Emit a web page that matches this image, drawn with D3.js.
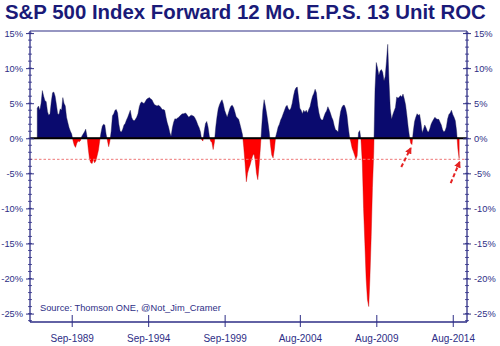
<!DOCTYPE html>
<html><head><meta charset="utf-8">
<script src="https://cdn.jsdelivr.net/npm/d3@7"></script>
<style>body{margin:0;background:#fff}svg{display:block}text{font-family:"Liberation Sans",Arial,sans-serif}</style>
</head><body><svg id="c" width="500" height="346"></svg>
<script>
const title = "S&P 500 Index Forward 12 Mo. E.P.S. 13 Unit ROC";
const source = "Source: Thomson ONE, @Not_Jim_Cramer";
const startMonth = "1987-06";
// monthly 13-unit rate of change (%)
const values = [
 4.3,4.6,4.0,5.0,6.8,6.0,5.4,5.2,3.8,3.3,
 3.5,5.2,6.5,6.6,6.0,4.8,3.5,3.4,4.2,4.0,
 5.8,5.0,4.6,3.0,2.2,1.5,1.0,0.6,-0.3,-1.0,
 -1.3,-0.7,-0.4,-0.5,-0.3,0.3,0.6,0.9,1.3,0.3,
 -1.5,-3.0,-3.5,-3.6,-3.0,-3.5,-3.2,-2.5,-1.7,-0.4,
 0.8,1.7,2.0,1.9,0.6,-0.3,-1.2,-0.4,1.0,3.2,
 3.5,4.0,4.1,3.6,2.0,1.0,0.9,1.3,1.9,2.1,
 2.6,3.0,3.5,4.0,3.0,2.6,2.5,2.7,3.0,3.5,
 4.5,5.0,5.2,5.0,5.0,5.3,5.6,5.7,5.8,5.6,
 5.5,5.1,4.8,4.7,4.6,4.7,4.6,4.4,4.1,4.1,
 4.0,3.0,2.2,1.6,0.8,0.3,1.5,2.3,2.8,2.7,
 2.9,3.0,3.2,3.4,3.5,3.5,3.6,3.5,3.2,3.0,
 3.2,3.3,3.2,3.1,2.8,2.4,1.9,1.5,0.9,-0.2,
 -0.4,1.0,2.1,2.4,1.6,0.3,-0.4,-0.6,-1.6,-0.5,
 1.6,3.0,4.2,4.8,5.2,5.5,4.9,4.0,3.5,3.0,
 3.6,4.2,4.6,4.7,4.4,3.8,3.1,2.9,2.7,2.0,
 1.3,0.5,-1.3,-3.6,-6.2,-5.0,-4.3,-3.8,-3.1,-2.5,
 -2.2,-3.2,-5.0,-5.9,-4.0,-1.4,1.5,4.0,5.5,4.6,
 3.5,2.3,0.9,-1.0,-2.4,-2.8,-1.6,0.2,0.9,1.6,
 2.0,2.6,3.0,3.5,4.0,4.5,4.7,4.2,4.0,4.3,
 5.0,6.0,6.8,7.2,7.3,5.8,4.3,4.0,3.5,
 4.0,3.7,4.0,3.6,4.1,4.5,5.3,6.0,6.4,7.0,
 6.5,4.7,3.6,2.9,2.6,2.6,3.1,3.6,3.9,4.5,
 4.1,3.6,3.0,2.6,1.8,1.2,1.1,0.9,2.6,3.8,
 4.4,4.7,4.7,4.2,3.3,1.6,0.2,-0.5,-1.4,-1.9,
 -2.4,-3.0,-2.5,0.8,1.1,-0.3,-3.5,-10.0,-15.0,-20.0,
 -23.0,-24.0,-20.0,-14.0,-7.0,-2.0,7.0,10.8,10.0,9.0,
 9.6,9.8,9.4,8.2,8.8,11.0,13.4,8.0,4.2,2.7,
 3.4,3.9,4.4,5.9,5.7,5.9,6.1,5.9,6.3,5.6,
 4.8,3.3,1.6,0.3,-0.7,-0.9,1.0,2.4,3.0,3.5,
 3.3,3.4,2.3,0.8,1.3,1.9,1.5,1.0,0.9,1.4,
 2.0,2.4,2.7,3.0,2.8,2.7,2.7,2.3,1.9,1.2,
 0.9,1.1,1.6,2.8,3.4,3.6,4.0,3.4,3.0,2.5,
 1.0,-1.5,-2.9
];
const yTicks = [-25,-20,-15,-10,-5,0,5,10,15];
const xTickDates = ["1989-09","1994-09","1999-09","2004-08","2009-08","2014-08"];
const xTickLabels = ["Sep-1989","Sep-1994","Sep-1999","Aug-2004","Aug-2009","Aug-2014"];
const thresholdLine = -3.0;
// annotation arrows: [tailDate, tailValue, tipDate, tipValue]
const arrows = [["2011-03-20",-4.1,"2011-11-01",-1.4],["2014-06-13",-6.4,"2015-01-10",-3.4]];

const parseM = d3.timeParse("%Y-%m"), parseD = d3.timeParse("%Y-%m-%d");
const start = parseM(startMonth);
const data = values.map((v,i)=>({d:d3.timeMonth.offset(start,i), v}));

const L=30, R=467, T=31, B=322;
const x = d3.scaleTime().domain([parseD("1986-12-10"), parseD("2015-07-07")]).range([L,R]);
const y = d3.scaleLinear().domain([-26.2,15.3]).range([B,T]);
const svg = d3.select("#c");
const navy="#2e2e86", blue="#0a0a6e", red="#ff0000";

function split(sign){
  const pts=[];
  for(let i=0;i<data.length;i++){
    const a=data[i];
    pts.push({d:a.d, v: sign>0?Math.max(a.v,0):Math.min(a.v,0)});
    if(i<data.length-1){
      const b=data[i+1];
      if((a.v>0&&b.v<0)||(a.v<0&&b.v>0)){
        const t=a.v/(a.v-b.v);
        pts.push({d:new Date(+a.d+t*(b.d-a.d)), v:0});
      }
    }
  }
  return pts;
}
const area = d3.area().x(p=>x(p.d)).y0(y(0)).y1(p=>y(p.v));
svg.append("path").datum(split(1)).attr("d",area).attr("fill",blue).attr("stroke","#1a1a4a").attr("stroke-width",0.4);
svg.append("path").datum(split(-1)).attr("d",area).attr("fill",red).attr("stroke","#c00000").attr("stroke-width",0.4);

svg.append("line").attr("x1",L).attr("x2",R).attr("y1",y(thresholdLine)).attr("y2",y(thresholdLine))
  .attr("stroke","#ee7777").attr("stroke-width",1).attr("stroke-dasharray","2.5,2");
svg.append("line").attr("x1",L).attr("x2",R).attr("y1",y(0)).attr("y2",y(0)).attr("stroke","#000").attr("stroke-width",2);

svg.append("line").attr("x1",L).attr("x2",R).attr("y1",T).attr("y2",T).attr("stroke",navy).attr("stroke-width",1.2);

const minor = d3.range(-26,16,1);
const axL = d3.axisLeft(y).tickValues(yTicks).tickFormat(d=>d+"%").tickSize(4).tickPadding(3);
const axR = d3.axisRight(y).tickValues(yTicks).tickFormat(d=>d+"%").tickSize(4).tickPadding(3);
const gL = svg.append("g").attr("transform",`translate(${L},0)`).call(axL);
const gR = svg.append("g").attr("transform",`translate(${R},0)`).call(axR);
[gL,gR].forEach((g,k)=>{
  g.select(".domain").attr("d",`M0,${T}V${B}`).attr("stroke",navy).attr("stroke-width",1.3);
  g.selectAll(".tick line").attr("stroke",navy).attr("stroke-width",1).attr("x1",k?-4:4);
  g.selectAll("text").attr("fill",navy).style("font-size","9.3px");
  g.selectAll(".minor").data(minor).enter().append("line").attr("class","minor")
    .attr("x1",-2).attr("x2",2).attr("y1",d=>y(d)).attr("y2",d=>y(d)).attr("stroke",navy).attr("stroke-width",0.8);
});

const xt = xTickDates.map(parseM);
const axB = d3.axisBottom(x).tickValues(xt).tickFormat((d,i)=>xTickLabels[i]).tickSize(6).tickPadding(7);
const gB = svg.append("g").attr("transform",`translate(0,${B})`).call(axB);
gB.select(".domain").attr("d",`M${L},0H${R}`).attr("stroke",navy).attr("stroke-width",1.3);
gB.selectAll(".tick line").attr("stroke",navy).attr("y1",-7).attr("y2",5);
gB.selectAll("text").attr("fill",navy).style("font-size","10px");

const defs = svg.append("defs");
defs.append("marker").attr("id","ah").attr("viewBox","0 0 10 10").attr("refX",8).attr("refY",5)
  .attr("markerWidth",3.4).attr("markerHeight",3.4).attr("orient","auto")
  .append("path").attr("d","M0,0L10,5L0,10z").attr("fill","#e52222");
arrows.forEach(a=>{
  svg.append("line").attr("x1",x(parseD(a[0]))).attr("y1",y(a[1])).attr("x2",x(parseD(a[2]))).attr("y2",y(a[3]))
    .attr("stroke","#e52222").attr("stroke-width",2).attr("stroke-dasharray","4,2.5").attr("marker-end","url(#ah)");
});

svg.append("text").attr("x",5).attr("y",19).attr("fill","#1a1a78").style("font-weight","bold").style("font-size","20.4px").text(title);
svg.append("text").attr("x",40).attr("y",311).attr("fill",navy).style("font-size","9.3px").text(source);
</script></body></html>
